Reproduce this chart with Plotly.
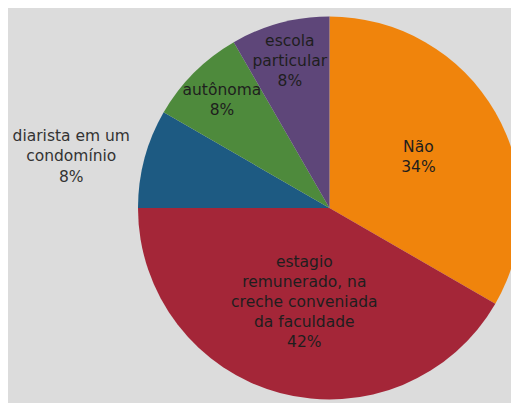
import plotly.graph_objects as go

labels = ["Não", "estagio<br>remunerado, na<br>creche conveniada<br>da faculdade",
          "diarista em um<br>condomínio", "autônoma", "escola<br>particular"]
counts = [4, 5, 1, 1, 1]
pct_text = ["34%", "42%", "8%", "8%", "8%"]
colors = ["#F0840C", "#A42638", "#1D5A82", "#4E8A3C", "#5E4679"]
positions = ["inside", "inside", "outside", "inside", "inside"]

fig = go.Figure(go.Pie(
    labels=labels,
    values=counts,
    text=pct_text,
    texttemplate="%{label}<br>%{text}",
    textposition=positions,
    insidetextorientation="horizontal",
    sort=False,
    direction="clockwise",
    rotation=0,
    marker=dict(colors=colors, line=dict(width=0)),
    textfont=dict(family="DejaVu Sans", size=15.5, color="#1e1e1e"),
    outsidetextfont=dict(family="DejaVu Sans", size=15.5, color="#333333"),
    showlegend=False,
    domain=dict(x=[122 / 518, 1.0], y=[0.0, 1.0]),
    hoverinfo="skip",
))

fig.update_layout(
    width=518,
    height=400,
    margin=dict(l=0, r=0, t=0, b=0),
    paper_bgcolor="#dcdcdc",
    plot_bgcolor="#dcdcdc",
    uniformtext=dict(minsize=15.5, mode="show"),
)

fig.write_html("out.html")
